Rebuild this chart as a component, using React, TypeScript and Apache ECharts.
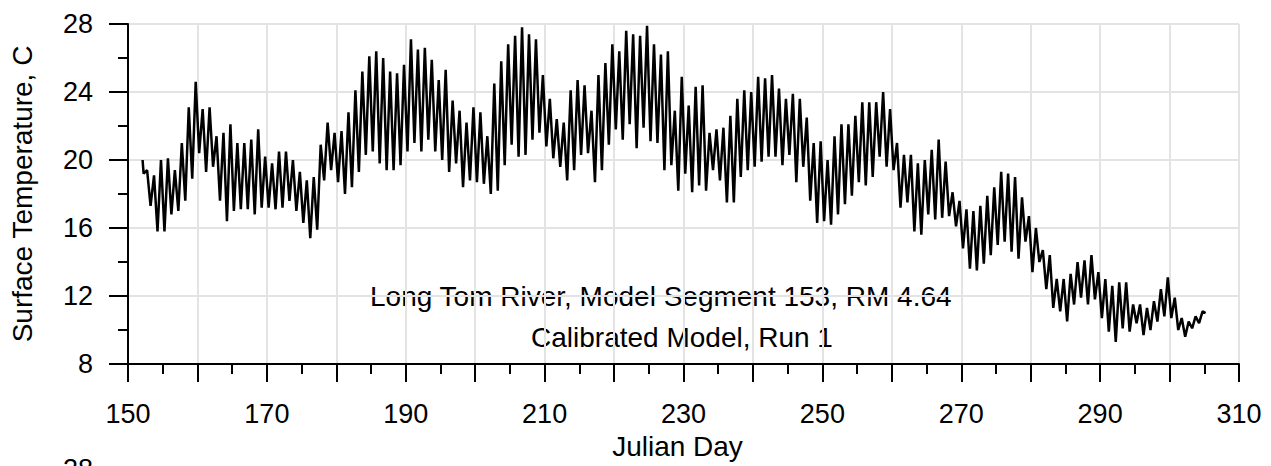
import React, { useEffect, useRef } from "react";
import * as echarts from "echarts";

// Julian day of the first daily cycle
const firstDay = 152;
// first and last recorded points [day, °C]
const startPoint = [152.1, 20.0];
const endPoint = [305.2, 11.0];
// daily minimum temperatures, days 152..304
const minTemps = [
  19.2, 17.3, 15.8, 15.8, 16.8, 17.0, 17.6, 18.9, 20.4, 19.3,
  19.6, 17.6, 16.4, 17.0, 17.1, 17.1, 16.8, 17.2, 17.2, 17.1,
  17.2, 17.6, 17.0, 16.3, 15.4, 15.9, 18.8, 19.4, 18.7, 18.0,
  18.4, 19.3, 20.3, 20.5, 19.8, 19.4, 19.4, 19.7, 20.5, 21.0,
  20.5, 21.2, 20.5, 20.0, 19.3, 19.8, 18.4, 18.8, 18.7, 18.6,
  18.0, 18.2, 19.7, 20.9, 20.2, 20.3, 21.2, 21.6, 20.8, 20.1,
  19.6, 18.8, 19.4, 20.3, 20.4, 18.7, 19.4, 20.9, 21.8, 21.2,
  22.1, 20.7, 21.9, 21.1, 21.0, 19.4, 19.7, 18.2, 19.2, 18.1,
  18.5, 18.2, 19.4, 18.8, 17.5, 17.5, 19.0, 19.4, 19.6, 19.9,
  20.2, 20.2, 19.7, 20.3, 18.7, 19.6, 17.6, 16.3, 16.4, 16.2,
  16.8, 17.4, 17.9, 18.7, 18.5, 19.0, 20.2, 19.6, 19.4, 17.2,
  17.5, 15.8, 15.6, 16.8, 16.5, 16.6, 16.7, 16.1, 14.8, 13.6,
  13.5, 13.9, 14.4, 15.0, 15.2, 14.6, 14.2, 15.2, 13.4, 14.0,
  12.4, 11.3, 11.1, 10.5, 11.5, 11.9, 11.5, 11.8, 10.7, 9.9,
  9.3, 10.1, 9.9, 10.4, 9.7, 10.0, 10.5, 10.8, 10.7, 10.0,
  9.6, 10.1, 10.4,
];
// daily maximum temperatures, days 152..304
const maxTemps = [
  19.4, 19.1, 20.0, 20.1, 19.4, 21.0, 23.1, 24.6, 23.0, 23.1,
  21.4, 21.6, 22.1, 21.0, 21.0, 21.2, 21.8, 20.2, 19.8, 20.5,
  20.5, 20.0, 19.3, 18.8, 19.0, 20.9, 22.2, 21.6, 21.7, 22.8,
  24.1, 25.2, 26.1, 26.4, 26.0, 25.2, 25.1, 25.6, 27.1, 26.5,
  26.6, 25.9, 24.7, 25.3, 23.5, 22.9, 22.2, 23.1, 22.8, 21.4,
  24.5, 25.8, 26.8, 27.3, 27.8, 27.4, 27.1, 25.0, 23.6, 22.4,
  22.2, 24.1, 24.7, 24.4, 22.9, 25.0, 25.7, 26.8, 26.4, 27.6,
  27.4, 27.3, 27.9, 26.8, 26.2, 26.4, 22.9, 24.9, 23.2, 24.3,
  24.4, 21.6, 21.8, 21.9, 22.6, 23.6, 24.1, 24.0, 24.9, 24.8,
  25.0, 24.2, 23.6, 23.9, 23.6, 22.5, 21.0, 21.1, 20.0, 21.4,
  22.1, 22.1, 22.6, 23.4, 23.4, 23.4, 24.0, 23.0, 21.0, 20.3,
  20.3, 19.8, 20.0, 20.6, 21.2, 19.9, 18.1, 17.6, 17.1, 17.0,
  17.3, 17.9, 18.4, 19.3, 19.2, 19.0, 17.8, 16.7, 16.0, 14.7,
  14.4, 13.0, 13.0, 13.3, 14.0, 14.1, 14.4, 13.4, 13.0, 12.6,
  12.8, 12.8, 11.5, 11.5, 11.3, 11.7, 12.4, 13.1, 11.9, 10.7,
  10.5, 10.8, 11.1,
];
const xTicks = { min: 150, max: 310, step: 10, labelStep: 20 };
const yTicks = { min: 8, max: 28, step: 4 };
const title1 = "Long Tom River, Model Segment 153, RM 4.64";
const title2 = "Calibrated Model, Run 1";

const FONT = "'Liberation Sans', Arial, sans-serif";

export default function App() {
  const ref = useRef<HTMLDivElement>(null);
  useEffect(() => {
    if (!ref.current) return;
    const chart = echarts.init(ref.current, null, { renderer: "svg" });
    const data: number[][] = [startPoint];
    for (let i = 0; i < minTemps.length; i++) {
      const d = firstDay + i;
      data.push([d + 0.25, minTemps[i]]);
      data.push([d + 0.75, maxTemps[i]]);
    }
    data.push(endPoint);

    const axisLine = { show: true, lineStyle: { color: "#000", width: 2 } };
    const split = { show: true, lineStyle: { color: "#e3e3e3", width: 2 } };
    chart.setOption({
      animation: false,
      backgroundColor: "#fff",
      grid: { left: 127, right: 32, top: 24, bottom: 102, containLabel: false },
      xAxis: {
        type: "value",
        min: xTicks.min,
        max: xTicks.max,
        interval: xTicks.step,
        axisLine,
        axisTick: { show: true, length: 18, lineStyle: { color: "#000", width: 2 } },
        minorTick: { show: true, splitNumber: 2, length: 10, lineStyle: { color: "#000", width: 2 } },
        splitLine: split,
        axisLabel: {
          color: "#000",
          fontFamily: FONT,
          fontSize: 27,
          margin: 36,
          formatter: (v: number) => ((v - xTicks.min) % xTicks.labelStep === 0 ? String(v) : ""),
        },
        name: "Julian Day",
        nameLocation: "middle",
        nameGap: 68,
        nameTextStyle: { color: "#000", fontFamily: FONT, fontSize: 28, padding: [0, 12, 0, 0] },
      },
      yAxis: {
        type: "value",
        min: yTicks.min,
        max: yTicks.max,
        interval: yTicks.step,
        axisLine,
        axisTick: { show: true, length: 19, lineStyle: { color: "#000", width: 2 } },
        minorTick: { show: true, splitNumber: 2, length: 10, lineStyle: { color: "#000", width: 2 } },
        splitLine: split,
        axisLabel: { color: "#000", fontFamily: FONT, fontSize: 27, margin: 35 },
        name: "Surface Temperature, C",
        nameLocation: "middle",
        nameGap: 92,
        nameTextStyle: { color: "#000", fontFamily: FONT, fontSize: 28 },
      },
      series: [
        {
          type: "line",
          data,
          showSymbol: false,
          symbol: "none",
          lineStyle: { color: "#000", width: 2.5 },
        },
      ],
      graphic: [
        {
          type: "text",
          left: 370,
          top: 282,
          style: { text: title1, fill: "#000", font: `28px ${FONT}` },
        },
        {
          type: "text",
          left: 531,
          top: 323,
          style: { text: title2, fill: "#000", font: `28px ${FONT}` },
        },
        {
          type: "text",
          right: 1271 - 93,
          top: 455,
          style: { text: "28", fill: "#000", font: `27px ${FONT}` },
        },
      ],
    });
    return () => chart.dispose();
  }, []);
  return (
    <div
      ref={ref}
      style={{ position: "fixed", left: 0, top: 0, width: 1271, height: 466, background: "#fff" }}
    />
  );
}
